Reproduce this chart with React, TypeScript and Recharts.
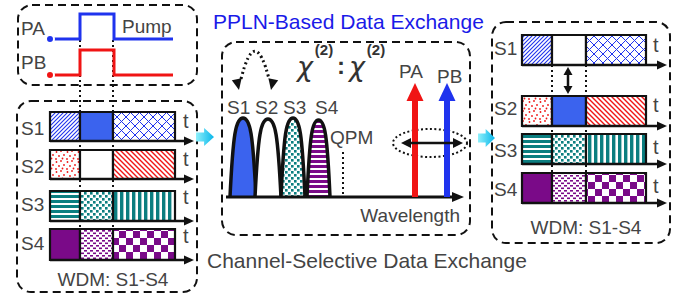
import React from 'react';
import {
  ComposedChart,
  Line,
  XAxis,
  YAxis,
  ReferenceArea,
  ReferenceLine,
  ReferenceDot,
} from 'recharts';

// canvas coordinates used as the data domain (y grows downward)
const W = 682;
const H = 299;

const channels = ['S1', 'S2', 'S3', 'S4'];

// pump pulses (time traces)
const pulseA = [
  { x: 50, y: 39 }, { x: 80, y: 39 }, { x: 80, y: 14 },
  { x: 114, y: 14 }, { x: 114, y: 39 }, { x: 173, y: 39 },
];
const pulseB = [
  { x: 50, y: 75 }, { x: 80, y: 75 }, { x: 80, y: 50 },
  { x: 114, y: 50 }, { x: 114, y: 75 }, { x: 173, y: 75 },
];

// input WDM frames
const inputSlots = [50, 80, 113, 175];
const inputTops = [112, 150, 191, 229];
const inputBottoms = [141, 179, 221, 260];
const inputLabelY = [128, 166, 204, 243];
const inputData = [
  ['blueDiag', 'blueSolid', 'blueCross'],
  ['redDots', 'blank', 'redDiag'],
  ['tealH', 'tealDots', 'tealV'],
  ['purpleSolid', 'purpleDots', 'purpleCheck'],
];

// output WDM frames (S1 / S2 exchanged in the middle slot)
const outputSlots = [522, 552, 586, 646];
const outputTops = [35, 96, 134, 173];
const outputBottoms = [65, 126, 164, 203];
const outputLabelY = [48, 108, 150, 189];
const outputData = [
  ['blueDiag', 'blank', 'blueCross'],
  ['redDots', 'blueSolid', 'redDiag'],
  ['tealH', 'tealDots', 'tealV'],
  ['purpleSolid', 'purpleDots', 'purpleCheck'],
];

// spectrum
const baseline = 197;
const peakFrom = [230, 255, 281, 307];
const peakTo = [256, 281, 305, 330];
const peakTop = [118, 119, 118, 120];
const peakFill = ['blueSolid', 'blank', 'tealDots', 'purpleH'];
const peakLabelX = [227, 255, 283, 315];
const pumpLineX = [415, 447];
const pumpTipY = [83, 83];
const pumpNames = ['PA', 'PB'];
const pumpNameX = [399, 437];
const pumpNameY = [71, 76];
const qpmX = 343;

const texts = [
  { text: 'PA', x: 21, y: 28, size: 19, color: '#444', anchor: 'start' },
  { text: 'Pump', x: 122, y: 26, size: 19, color: '#444', anchor: 'start' },
  { text: 'PB', x: 21, y: 62, size: 19, color: '#444', anchor: 'start' },
  { text: 'PPLN-Based Data Exchange', x: 213, y: 21, size: 21, color: '#1a1ae8', anchor: 'start' },
  { text: 'QPM', x: 330, y: 137, size: 19, color: '#444', anchor: 'start' },
  { text: 'Wavelength', x: 460, y: 215, size: 19, color: '#444', anchor: 'end' },
  { text: 'WDM: S1-S4', x: 113, y: 279, size: 19, color: '#444', anchor: 'middle' },
  { text: 'WDM: S1-S4', x: 586, y: 227, size: 19, color: '#444', anchor: 'middle' },
  { text: 'Channel-Selective Data Exchange', x: 207, y: 260, size: 21, color: '#444', anchor: 'start' },
];

const chiParts = [
  { text: 'χ', x: 305, y: 66, kind: 'chi' },
  { text: '(2)', x: 324, y: 49, kind: 'sup' },
  { text: ':', x: 341, y: 65, kind: 'colon' },
  { text: 'χ', x: 357, y: 66, kind: 'chi' },
  { text: '(2)', x: 376, y: 49, kind: 'sup' },
];

const BLUE = '#1f33ee';
const BLUE_FILL = '#3b63ee';
const RED = '#f01414';
const TEAL = '#0b7e80';
const PURPLE = '#7a0a88';
const INK = '#111';
const FONT = '"Liberation Sans", Arial, sans-serif';

const Patterns = () => (
  <svg width={0} height={0} style={{ position: 'absolute' }}>
    <defs>
      <pattern id="blueDiag" width={4} height={4} patternUnits="userSpaceOnUse">
        <rect width={4} height={4} fill="#fff" />
        <path d="M-1,1 l2,-2 M0,4 l4,-4 M3,5 l2,-2" stroke={BLUE} strokeWidth={1.1} />
      </pattern>
      <pattern id="blueCross" width={9} height={9} patternUnits="userSpaceOnUse">
        <rect width={9} height={9} fill="#fff" />
        <path d="M0,0 L9,9 M9,0 L0,9" stroke={BLUE} strokeWidth={1} />
      </pattern>
      <pattern id="blueSolid" width={4} height={4} patternUnits="userSpaceOnUse">
        <rect width={4} height={4} fill={BLUE_FILL} />
      </pattern>
      <pattern id="blank" width={4} height={4} patternUnits="userSpaceOnUse">
        <rect width={4} height={4} fill="#fff" />
      </pattern>
      <pattern id="redDots" width={11} height={10} patternUnits="userSpaceOnUse">
        <rect width={11} height={10} fill="#fff" />
        <circle cx={1.5} cy={2} r={0.9} fill={RED} />
        <circle cx={6} cy={1} r={0.9} fill={RED} />
        <circle cx={9} cy={5} r={0.9} fill={RED} />
        <circle cx={4} cy={6} r={0.9} fill={RED} />
        <circle cx={7.5} cy={8.5} r={0.9} fill={RED} />
        <circle cx={1} cy={9} r={0.9} fill={RED} />
      </pattern>
      <pattern id="redDiag" width={5} height={5} patternUnits="userSpaceOnUse">
        <rect width={5} height={5} fill="#fff" />
        <path d="M-1,4 l2,2 M0,0 l5,5 M4,-1 l2,2" stroke={RED} strokeWidth={1.4} />
      </pattern>
      <pattern id="tealH" width={5} height={5} patternUnits="userSpaceOnUse">
        <rect width={5} height={5} fill="#fff" />
        <rect width={5} height={3} fill={TEAL} />
      </pattern>
      <pattern id="tealV" width={6} height={6} patternUnits="userSpaceOnUse">
        <rect width={6} height={6} fill="#fff" />
        <rect width={3.4} height={6} fill={TEAL} />
      </pattern>
      <pattern id="tealDots" width={6} height={6} patternUnits="userSpaceOnUse">
        <rect width={6} height={6} fill="#fff" />
        <rect x={0} y={0} width={2.6} height={2.6} fill={TEAL} />
        <rect x={3} y={3} width={2.6} height={2.6} fill={TEAL} />
      </pattern>
      <pattern id="purpleSolid" width={4} height={4} patternUnits="userSpaceOnUse">
        <rect width={4} height={4} fill={PURPLE} />
      </pattern>
      <pattern id="purpleDots" width={6} height={5} patternUnits="userSpaceOnUse">
        <rect width={6} height={5} fill="#fff" />
        <rect x={0} y={0} width={3} height={1.6} fill={PURPLE} />
        <rect x={3} y={2.5} width={3} height={1.6} fill={PURPLE} />
      </pattern>
      <pattern id="purpleCheck" width={14} height={14} patternUnits="userSpaceOnUse">
        <rect width={14} height={14} fill="#fff" />
        <rect x={0} y={0} width={7} height={7} fill={PURPLE} />
        <rect x={7} y={7} width={7} height={7} fill={PURPLE} />
      </pattern>
      <pattern id="purpleH" width={5} height={5} patternUnits="userSpaceOnUse">
        <rect width={5} height={5} fill="#fff" />
        <rect width={5} height={3} fill={PURPLE} />
      </pattern>
      <linearGradient id="cyanGrad" x1="0" y1="0" x2="1" y2="0">
        <stop offset="0%" stopColor="#8ef0fb" />
        <stop offset="100%" stopColor="#08b6ea" />
      </linearGradient>
    </defs>
  </svg>
);

const dashedBox = (p: any) => (
  <rect x={p.x} y={p.y} width={p.width} height={p.height} rx={14} ry={14}
    fill="none" stroke={INK} strokeWidth={2} strokeDasharray="8 5" />
);

const arrow = (color: string, width: number, headLen: number, headW: number, both = false, dash?: string) =>
  (p: any) => {
    const { x1, y1, x2, y2 } = p;
    const len = Math.hypot(x2 - x1, y2 - y1) || 1;
    const ux = (x2 - x1) / len;
    const uy = (y2 - y1) / len;
    const head = (tx: number, ty: number, dx: number, dy: number) => {
      const bx = tx - dx * headLen;
      const by = ty - dy * headLen;
      return `${tx},${ty} ${bx - dy * headW / 2},${by + dx * headW / 2} ${bx + dy * headW / 2},${by - dx * headW / 2}`;
    };
    const s = both ? headLen * 0.8 : 0;
    return (
      <g>
        <line x1={x1 + ux * s} y1={y1 + uy * s} x2={x2 - ux * headLen * 0.8} y2={y2 - uy * headLen * 0.8}
          stroke={color} strokeWidth={width} strokeDasharray={dash} />
        <polygon points={head(x2, y2, ux, uy)} fill={color} />
        {both && <polygon points={head(x1, y1, -ux, -uy)} fill={color} />}
      </g>
    );
  };

const dotted = (p: any) => (
  <line x1={p.x1} y1={p.y1} x2={p.x2} y2={p.y2} stroke={INK} strokeWidth={2} strokeDasharray="2 3" />
);

const peakShape = (fill: string) => (p: any) => {
  const { x, y, width: w, height: h } = p;
  const b = y + h;
  const d = `M${x},${b} C${x + w * 0.12},${y + h * 0.2} ${x + w * 0.22},${y} ${x + w / 2},${y} `
    + `C${x + w * 0.78},${y} ${x + w * 0.88},${y + h * 0.2} ${x + w},${b}`;
  return <path d={d} fill={`url(#${fill})`} stroke={INK} strokeWidth={3.5} strokeLinejoin="round" />;
};

const cyanArrow = (p: any) => {
  const { x, y, width: w, height: h } = p;
  const m = y + h / 2;
  const bx = x + w * 0.45;
  const pts = `${x},${m - h * 0.25} ${bx},${m - h * 0.25} ${bx},${y} ${x + w},${m} ${bx},${y + h} ${bx},${m + h * 0.25} ${x},${m + h * 0.25}`;
  return <polygon points={pts} fill="url(#cyanGrad)" />;
};

const ellipseShape = (p: any) => (
  <ellipse cx={p.x + p.width / 2} cy={p.y + p.height / 2} rx={p.width / 2} ry={p.height / 2}
    fill="none" stroke={INK} strokeWidth={2} strokeDasharray="2 2.5" />
);

const swapArc = (p: any) => {
  const { x, y, width: w, height: h } = p;
  const b = y + h;
  const hl = 11;
  return (
    <g>
      <path d={`M${x + 2},${b - hl} Q${x + w / 2},${y - h * 0.9} ${x + w - 2},${b - hl}`}
        fill="none" stroke={INK} strokeWidth={3} strokeDasharray="2 3" />
      <polygon points={`${x},${b} ${x - 5},${b - hl} ${x + 5},${b - hl}`} fill={INK} transform={`rotate(-12 ${x} ${b})`} />
      <polygon points={`${x + w},${b} ${x + w - 5},${b - hl} ${x + w + 5},${b - hl}`} fill={INK} transform={`rotate(12 ${x + w} ${b})`} />
    </g>
  );
};

const textShape = (text: string, size: number, color: string, anchor: string, extra: any = {}) =>
  (p: any) => (
    <text x={p.cx} y={p.cy} fontSize={size} fill={color} textAnchor={anchor}
      dominantBaseline="central" fontFamily={FONT} {...extra}>{text}</text>
  );

const chiStyle = (kind: string, text: string) => {
  if (kind === 'chi') {
    return textShape(text, 27, '#333', 'middle', { fontFamily: '"DejaVu Sans", sans-serif', fontStyle: 'italic' });
  }
  if (kind === 'sup') return textShape(text, 15, '#333', 'middle', { fontWeight: 700 });
  return textShape(text, 24, '#333', 'middle', { fontWeight: 700 });
};

export default function App() {
  const frames = (slots: number[], tops: number[], bottoms: number[], data: string[][], key: string) =>
    data.flatMap((row, i) =>
      row.map((fill, j) => (
        <ReferenceArea key={`${key}-${i}-${j}`} x1={slots[j]} x2={slots[j + 1]} y1={tops[i]} y2={bottoms[i]}
          fill={`url(#${fill})`} fillOpacity={1} stroke={INK} strokeWidth={2.2} ifOverflow="visible" />
      )),
    );

  return (
    <div style={{ position: 'absolute', left: 0, top: 0, width: W, height: H, background: '#fff' }}>
      <Patterns />
      <ComposedChart width={W} height={H} margin={{ top: 0, right: 0, bottom: 0, left: 0 }}>
        <XAxis dataKey="x" type="number" domain={[0, W]} hide allowDataOverflow />
        <YAxis type="number" domain={[0, H]} reversed hide allowDataOverflow />

        {/* dashed frames */}
        <ReferenceArea x1={18} x2={197} y1={5} y2={85} shape={dashedBox} ifOverflow="visible" />
        <ReferenceArea x1={17} x2={197} y1={101} y2={292} shape={dashedBox} ifOverflow="visible" />
        <ReferenceArea x1={222} x2={470} y1={42} y2={235} shape={dashedBox} ifOverflow="visible" />
        <ReferenceArea x1={492} x2={670} y1={22} y2={243} shape={dashedBox} ifOverflow="visible" />

        {/* time slot guides */}
        {[80, 113].map((x) => (
          <ReferenceLine key={`gl-${x}`} segment={[{ x, y: 40 }, { x, y: 227 }]} shape={dotted} ifOverflow="visible" />
        ))}
        {[552, 586].map((x) => (
          <ReferenceLine key={`gr-${x}`} segment={[{ x, y: 65 }, { x, y: 175 }]} shape={dotted} ifOverflow="visible" />
        ))}

        <Line data={pulseA} dataKey="y" type="linear" stroke={BLUE} strokeWidth={3} dot={false} isAnimationActive={false} />
        <Line data={pulseB} dataKey="y" type="linear" stroke={RED} strokeWidth={3} dot={false} isAnimationActive={false} />

        {frames(inputSlots, inputTops, inputBottoms, inputData, 'in')}
        {frames(outputSlots, outputTops, outputBottoms, outputData, 'out')}

        {inputBottoms.map((y, i) => (
          <ReferenceLine key={`ta-${i}`} segment={[{ x: inputSlots[0], y }, { x: 194, y }]}
            shape={arrow(INK, 2.5, 10, 9)} ifOverflow="visible" />
        ))}
        {outputBottoms.map((y, i) => (
          <ReferenceLine key={`tb-${i}`} segment={[{ x: outputSlots[0], y }, { x: 667, y }]}
            shape={arrow(INK, 2.5, 10, 9)} ifOverflow="visible" />
        ))}

        {/* exchange arrow between S1 and S2 */}
        <ReferenceLine segment={[{ x: 568, y: 67 }, { x: 568, y: 94 }]} shape={arrow(INK, 2.5, 8, 9, true)} ifOverflow="visible" />

        {/* cyan flow arrows */}
        <ReferenceArea x1={196} x2={214} y1={128} y2={146} shape={cyanArrow} ifOverflow="visible" />
        <ReferenceArea x1={478} x2={495} y1={129} y2={147} shape={cyanArrow} ifOverflow="visible" />

        {/* spectrum */}
        {peakFrom.map((x, i) => (
          <ReferenceArea key={`pk-${i}`} x1={x} x2={peakTo[i]} y1={peakTop[i]} y2={baseline}
            shape={peakShape(peakFill[i])} ifOverflow="visible" />
        ))}
        <ReferenceLine segment={[{ x: qpmX, y: 152 }, { x: qpmX, y: baseline }]} shape={dotted} ifOverflow="visible" />
        <ReferenceLine segment={[{ x: 226, y: baseline }, { x: 464, y: baseline }]}
          shape={arrow(INK, 3, 12, 10)} ifOverflow="visible" />
        {pumpLineX.map((x, i) => (
          <ReferenceLine key={`pp-${i}`} segment={[{ x, y: baseline }, { x, y: pumpTipY[i] }]}
            shape={arrow(i === 0 ? RED : BLUE, 6, 18, 17)} ifOverflow="visible" />
        ))}
        <ReferenceArea x1={393} x2={467} y1={129} y2={157} shape={ellipseShape} ifOverflow="visible" />
        <ReferenceLine segment={[{ x: 401, y: 143 }, { x: 463, y: 143 }]} shape={arrow(INK, 2.5, 10, 10, true)} ifOverflow="visible" />
        <ReferenceArea x1={239} x2={271} y1={55} y2={90} shape={swapArc} ifOverflow="visible" />

        {/* labels */}
        {channels.map((c, i) => (
          <ReferenceDot key={`li-${c}`} x={21} y={inputLabelY[i]} r={0} ifOverflow="visible"
            shape={textShape(c, 19, '#444', 'start')} />
        ))}
        {channels.map((c, i) => (
          <ReferenceDot key={`ti-${c}`} x={183} y={inputLabelY[i] - 7} r={0} ifOverflow="visible"
            shape={textShape('t', 20, '#444', 'start')} />
        ))}
        {channels.map((c, i) => (
          <ReferenceDot key={`lo-${c}`} x={494} y={outputLabelY[i]} r={0} ifOverflow="visible"
            shape={textShape(c, 19, '#444', 'start')} />
        ))}
        {channels.map((c, i) => (
          <ReferenceDot key={`to-${c}`} x={653} y={outputLabelY[i] - 3} r={0} ifOverflow="visible"
            shape={textShape('t', 20, '#444', 'start')} />
        ))}
        {channels.map((c, i) => (
          <ReferenceDot key={`lp-${c}`} x={peakLabelX[i]} y={107} r={0} ifOverflow="visible"
            shape={textShape(c, 19, '#444', 'start')} />
        ))}
        {pumpNames.map((n, i) => (
          <ReferenceDot key={`pn-${n}`} x={pumpNameX[i]} y={pumpNameY[i]} r={0} ifOverflow="visible"
            shape={textShape(n, 19, '#444', 'start')} />
        ))}
        {texts.map((t, i) => (
          <ReferenceDot key={`tx-${i}`} x={t.x} y={t.y} r={0} ifOverflow="visible"
            shape={textShape(t.text, t.size, t.color, t.anchor)} />
        ))}
        {chiParts.map((c, i) => (
          <ReferenceDot key={`chi-${i}`} x={c.x} y={c.y} r={0} ifOverflow="visible"
            shape={chiStyle(c.kind, c.text)} />
        ))}
      </ComposedChart>
    </div>
  );
}
